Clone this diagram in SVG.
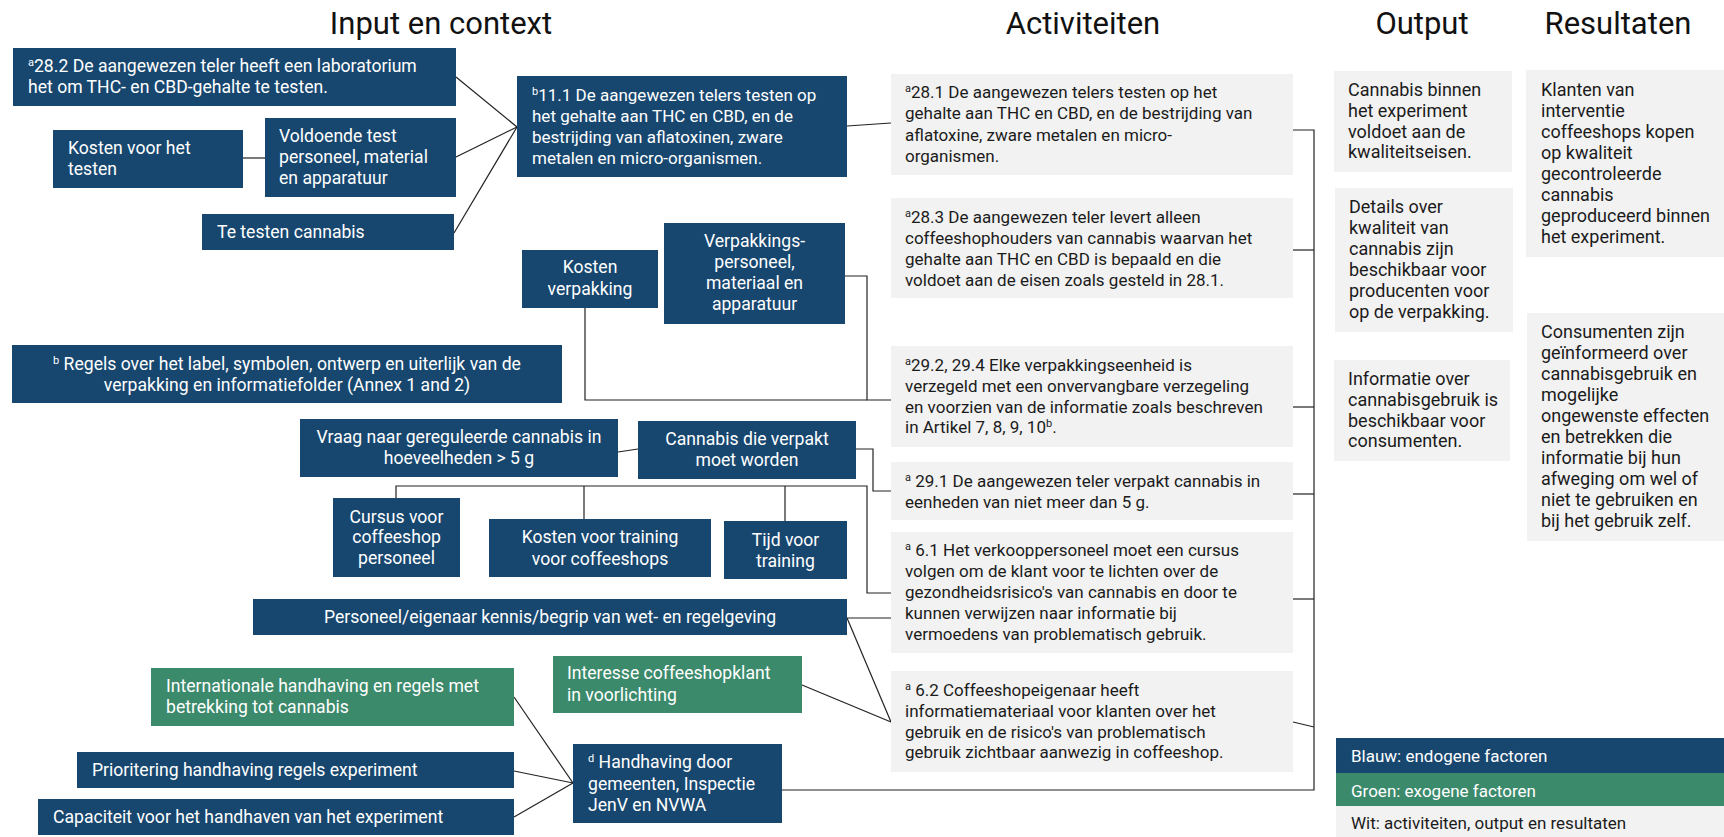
<svg xmlns="http://www.w3.org/2000/svg" width="1724" height="837" viewBox="0 0 1724 837">
<style>
.b{fill:#17476F}
.g{fill:#3C8A6C}
.w{fill:#F2F2F2}
.t{font-family:Roboto,"Liberation Sans",sans-serif;font-size:17px;fill:#fff}
.t2{font-size:17.6px}
.t3{font-size:18px}
.k{fill:#1b1b1b}
.m{text-anchor:middle}
.h{font-family:Roboto,"Liberation Sans",sans-serif;font-size:31px;fill:#111;text-anchor:middle}
.s{font-size:11px}
.ln{stroke:#222;stroke-width:1.2;fill:none}
</style>
<rect width="1724" height="837" fill="#fff"/>
<g id="titles">
<text class="h" x="441" y="34">Input en context</text>
<text class="h" x="1083" y="34">Activiteiten</text>
<text class="h" x="1422" y="34">Output</text>
<text class="h" x="1618" y="34">Resultaten</text>
</g>
<g id="connectors">
<polyline class="ln" points="456,77 517,127"/>
<polyline class="ln" points="456,157 517,127"/>
<polyline class="ln" points="454,233 517,127"/>
<polyline class="ln" points="243,158 265,158"/>
<polyline class="ln" points="847,126 891,123"/>
<polyline class="ln" points="845,276 867,276 867,400 891,400"/>
<polyline class="ln" points="585,308 585,400 867,400"/>
<polyline class="ln" points="618,452 638,449"/>
<polyline class="ln" points="856,449 873,449 873,491 891,491"/>
<polyline class="ln" points="396,498 396,486 867,486 867,593 891,593"/>
<polyline class="ln" points="584,486 584,519"/>
<polyline class="ln" points="785,486 785,521"/>
<polyline class="ln" points="847,618 891,618"/>
<polyline class="ln" points="847,618 891,722"/>
<polyline class="ln" points="802,685 891,722"/>
<polyline class="ln" points="514,697 573,783"/>
<polyline class="ln" points="514,771 573,783"/>
<polyline class="ln" points="514,817 573,783"/>
<polyline class="ln" points="782,790 1314,790 1314,130 1293,130"/>
<polyline class="ln" points="1293,250 1314,250"/>
<polyline class="ln" points="1293,407 1314,407"/>
<polyline class="ln" points="1293,494 1314,494"/>
<polyline class="ln" points="1293,599 1314,599"/>
<polyline class="ln" points="1293,722 1314,727"/>
</g>
<g id="n282"><rect class="b" x="13" y="48" width="443" height="58"/>
<text class="t t2"><tspan x="28" y="72"><tspan class="s" baseline-shift="super">a</tspan>28.2 De aangewezen teler heeft een laboratorium</tspan><tspan x="28" y="93">het om THC- en CBD-gehalte te testen.</tspan></text></g>
<g id="nKostenTest"><rect class="b" x="53" y="130" width="190" height="58"/>
<text class="t t2"><tspan x="68" y="154">Kosten voor het</tspan><tspan x="68" y="175">testen</tspan></text></g>
<g id="nVoldoende"><rect class="b" x="265" y="118" width="191" height="79"/>
<text class="t t2"><tspan x="279" y="142">Voldoende test</tspan><tspan x="279" y="163">personeel, material</tspan><tspan x="279" y="184">en apparatuur</tspan></text></g>
<g id="nTeTesten"><rect class="b" x="202" y="214" width="252" height="36"/>
<text class="t t2" x="217" y="238">Te testen cannabis</text></g>
<g id="n111"><rect class="b" x="517" y="76" width="330" height="101"/>
<text class="t"><tspan x="532" y="101"><tspan class="s" baseline-shift="super">b</tspan>11.1 De aangewezen telers testen op</tspan><tspan x="532" y="122">het gehalte aan THC en CBD, en de</tspan><tspan x="532" y="143">bestrijding van aflatoxinen, zware</tspan><tspan x="532" y="164">metalen en micro-organismen.</tspan></text></g>
<g id="nKostenVerp"><rect class="b" x="522" y="250" width="136" height="58"/>
<text class="t t2 m"><tspan x="590" y="273">Kosten</tspan><tspan x="590" y="295">verpakking</tspan></text></g>
<g id="nVerpakkings"><rect class="b" x="664" y="223" width="181" height="101"/>
<text class="t t2 m"><tspan x="754.5" y="247">Verpakkings-</tspan><tspan x="754.5" y="268">personeel,</tspan><tspan x="754.5" y="289">materiaal en</tspan><tspan x="754.5" y="310">apparatuur</tspan></text></g>
<g id="nRegels"><rect class="b" x="12" y="345" width="550" height="58"/>
<text class="t t2 m"><tspan x="287" y="370"><tspan class="s" baseline-shift="super">b</tspan> Regels over het label, symbolen, ontwerp en uiterlijk van de</tspan><tspan x="287" y="391">verpakking en informatiefolder (Annex 1 and 2)</tspan></text></g>
<g id="nVraag"><rect class="b" x="300" y="419" width="318" height="58"/>
<text class="t t2 m"><tspan x="459" y="443">Vraag naar gereguleerde cannabis in</tspan><tspan x="459" y="464">hoeveelheden &gt; 5 g</tspan></text></g>
<g id="nCannabisVerpakt"><rect class="b" x="638" y="421" width="218" height="58"/>
<text class="t t2 m"><tspan x="747" y="445">Cannabis die verpakt</tspan><tspan x="747" y="466">moet worden</tspan></text></g>
<g id="nCursus"><rect class="b" x="333" y="498" width="127" height="79"/>
<text class="t t2 m"><tspan x="396.5" y="523">Cursus voor</tspan><tspan x="396.5" y="543">coffeeshop</tspan><tspan x="396.5" y="564">personeel</tspan></text></g>
<g id="nKostenTraining"><rect class="b" x="489" y="519" width="222" height="58"/>
<text class="t t2 m"><tspan x="600" y="543">Kosten voor training</tspan><tspan x="600" y="565">voor coffeeshops</tspan></text></g>
<g id="nTijd"><rect class="b" x="724" y="521" width="123" height="58"/>
<text class="t t2 m"><tspan x="785.5" y="546">Tijd voor</tspan><tspan x="785.5" y="567">training</tspan></text></g>
<g id="nPersoneel"><rect class="b" x="253" y="599" width="594" height="36"/>
<text class="t t2 m" x="550" y="623">Personeel/eigenaar kennis/begrip van wet- en regelgeving</text></g>
<g id="nInteresse"><rect class="g" x="553" y="656" width="249" height="57"/>
<text class="t t2"><tspan x="567" y="679">Interesse coffeeshopklant</tspan><tspan x="567" y="701">in voorlichting</tspan></text></g>
<g id="nInternationale"><rect class="g" x="151" y="668" width="363" height="58"/>
<text class="t t2"><tspan x="166" y="692">Internationale handhaving en regels met</tspan><tspan x="166" y="713">betrekking tot cannabis</tspan></text></g>
<g id="nPrioritering"><rect class="b" x="77" y="752" width="437" height="36"/>
<text class="t t2" x="92" y="776">Prioritering handhaving regels experiment</text></g>
<g id="nCapaciteit"><rect class="b" x="38" y="799" width="476" height="36"/>
<text class="t t2" x="53" y="823">Capaciteit voor het handhaven van het experiment</text></g>
<g id="nHandhaving"><rect class="b" x="573" y="744" width="209" height="79"/>
<text class="t t2"><tspan x="588" y="768"><tspan class="s" baseline-shift="super">d</tspan> Handhaving door</tspan><tspan x="588" y="790">gemeenten, Inspectie</tspan><tspan x="588" y="811">JenV en NVWA</tspan></text></g>
<g id="a281"><rect class="w" x="891" y="74" width="402" height="101"/>
<text class="t k"><tspan x="905" y="98"><tspan class="s" baseline-shift="super">a</tspan>28.1 De aangewezen telers testen op het</tspan><tspan x="905" y="119">gehalte aan THC en CBD, en de bestrijding van</tspan><tspan x="905" y="141">aflatoxine, zware metalen en micro-</tspan><tspan x="905" y="162">organismen.</tspan></text></g>
<g id="a283"><rect class="w" x="891" y="198" width="402" height="100"/>
<text class="t k"><tspan x="905" y="223"><tspan class="s" baseline-shift="super">a</tspan>28.3 De aangewezen teler levert alleen</tspan><tspan x="905" y="244">coffeeshophouders van cannabis waarvan het</tspan><tspan x="905" y="265">gehalte aan THC en CBD is bepaald en die</tspan><tspan x="905" y="286">voldoet aan de eisen zoals gesteld in 28.1.</tspan></text></g>
<g id="a292"><rect class="w" x="891" y="346" width="402" height="101"/>
<text class="t k"><tspan x="905" y="371"><tspan class="s" baseline-shift="super">a</tspan>29.2, 29.4 Elke verpakkingseenheid is</tspan><tspan x="905" y="392">verzegeld met een onvervangbare verzegeling</tspan><tspan x="905" y="413">en voorzien van de informatie zoals beschreven</tspan><tspan x="905" y="433">in Artikel 7, 8, 9, 10<tspan class="s" baseline-shift="super">b</tspan>.</tspan></text></g>
<g id="a291"><rect class="w" x="891" y="462" width="402" height="58"/>
<text class="t k"><tspan x="905" y="487"><tspan class="s" baseline-shift="super">a</tspan> 29.1 De aangewezen teler verpakt cannabis in</tspan><tspan x="905" y="508">eenheden van niet meer dan 5 g.</tspan></text></g>
<g id="a61"><rect class="w" x="891" y="532" width="402" height="121"/>
<text class="t k"><tspan x="905" y="556"><tspan class="s" baseline-shift="super">a</tspan> 6.1 Het verkooppersoneel moet een cursus</tspan><tspan x="905" y="577">volgen om de klant voor te lichten over de</tspan><tspan x="905" y="598">gezondheidsrisico's van cannabis en door te</tspan><tspan x="905" y="619">kunnen verwijzen naar informatie bij</tspan><tspan x="905" y="640">vermoedens van problematisch gebruik.</tspan></text></g>
<g id="a62"><rect class="w" x="891" y="671" width="402" height="101"/>
<text class="t k"><tspan x="905" y="696"><tspan class="s" baseline-shift="super">a</tspan> 6.2 Coffeeshopeigenaar heeft</tspan><tspan x="905" y="717">informatiemateriaal voor klanten over het</tspan><tspan x="905" y="738">gebruik en de risico's van problematisch</tspan><tspan x="905" y="758">gebruik zichtbaar aanwezig in coffeeshop.</tspan></text></g>
<g id="o1"><rect class="w" x="1334" y="71" width="178" height="101"/>
<text class="t t3 k"><tspan x="1348" y="96">Cannabis binnen</tspan><tspan x="1348" y="117">het experiment</tspan><tspan x="1348" y="138">voldoet aan de</tspan><tspan x="1348" y="158">kwaliteitseisen.</tspan></text></g>
<g id="o2"><rect class="w" x="1335" y="188" width="178" height="144"/>
<text class="t t3 k"><tspan x="1349" y="213">Details over</tspan><tspan x="1349" y="234">kwaliteit van</tspan><tspan x="1349" y="255">cannabis zijn</tspan><tspan x="1349" y="276">beschikbaar voor</tspan><tspan x="1349" y="297">producenten voor</tspan><tspan x="1349" y="318">op de verpakking.</tspan></text></g>
<g id="o3"><rect class="w" x="1334" y="360" width="176" height="101"/>
<text class="t t3 k"><tspan x="1348" y="385">Informatie over</tspan><tspan x="1348" y="406">cannabisgebruik is</tspan><tspan x="1348" y="427">beschikbaar voor</tspan><tspan x="1348" y="447">consumenten.</tspan></text></g>
<g id="r1"><rect class="w" x="1526" y="70" width="198" height="187"/>
<text class="t t3 k"><tspan x="1541" y="96">Klanten van</tspan><tspan x="1541" y="117">interventie</tspan><tspan x="1541" y="138">coffeeshops kopen</tspan><tspan x="1541" y="159">op kwaliteit</tspan><tspan x="1541" y="180">gecontroleerde</tspan><tspan x="1541" y="201">cannabis</tspan><tspan x="1541" y="222">geproduceerd binnen</tspan><tspan x="1541" y="243">het experiment.</tspan></text></g>
<g id="r2"><rect class="w" x="1527" y="313" width="197" height="228"/>
<text class="t t3 k"><tspan x="1541" y="338">Consumenten zijn</tspan><tspan x="1541" y="359">geïnformeerd over</tspan><tspan x="1541" y="380">cannabisgebruik en</tspan><tspan x="1541" y="401">mogelijke</tspan><tspan x="1541" y="422">ongewenste effecten</tspan><tspan x="1541" y="443">en betrekken die</tspan><tspan x="1541" y="464">informatie bij hun</tspan><tspan x="1541" y="485">afweging om wel of</tspan><tspan x="1541" y="506">niet te gebruiken en</tspan><tspan x="1541" y="527">bij het gebruik zelf.</tspan></text></g>
<g id="legend">
<rect class="b" x="1336" y="738" width="388" height="35"/>
<text class="t" x="1351" y="762">Blauw: endogene factoren</text>
<rect class="g" x="1336" y="773" width="388" height="33"/>
<text class="t" x="1351" y="797">Groen: exogene factoren</text>
<rect class="w" x="1336" y="806" width="388" height="31"/>
<text class="t k" x="1351" y="829">Wit: activiteiten, output en resultaten</text>
</g>
</svg>
